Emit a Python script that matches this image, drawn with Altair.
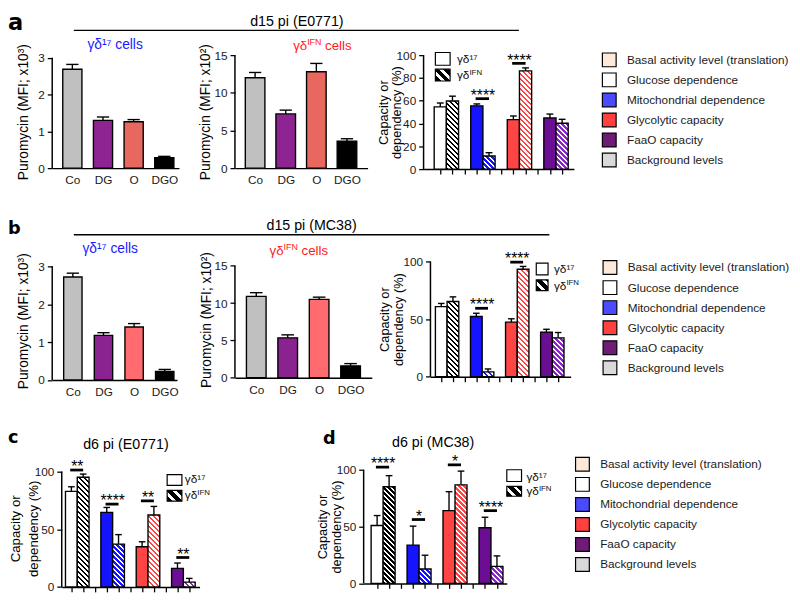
import math
import altair as alt
import pandas as pd

FONT = "Liberation Sans"
LETTER_FONT = "DejaVu Sans"

# ------------------------------------------------------------------ data
puro_labels = ["Co", "DG", "O", "DGO"]
a1_mean = [2.69, 1.30, 1.26, 0.285]
a1_sem = [0.13, 0.09, 0.06, 0.035]
a2_mean = [12.0, 7.2, 12.8, 3.57]
a2_sem = [0.7, 0.5, 1.1, 0.33]
b1_mean = [2.72, 1.18, 1.40, 0.23]
b1_sem = [0.10, 0.07, 0.09, 0.05]
b2_mean = [10.9, 5.35, 10.5, 1.6]
b2_sem = [0.5, 0.4, 0.3, 0.3]

capacity_groups = ["Glucose dependence", "Mitochondrial dependence",
                   "Glycolytic capacity", "FaaO capacity"]
a3_g17 = [54.6, 55.5, 43.4, 44.8]
a3_g17_sem = [3.4, 1.7, 3.2, 3.5]
a3_gifn = [59.8, 11.5, 86.2, 40.2]
a3_gifn_sem = [4.2, 2.9, 2.6, 3.5]
b3_g17 = [60.8, 52.3, 47.4, 38.6]
b3_g17_sem = [2.8, 2.8, 2.9, 2.6]
b3_gifn = [65.3, 4.3, 93.2, 33.8]
b3_gifn_sem = [4.0, 2.5, 2.5, 4.6]
c_g17 = [82.7, 64.6, 34.8, 16.1]
c_g17_sem = [4.0, 4.2, 4.3, 4.6]
c_gifn = [94.9, 37.1, 62.3, 4.2]
c_gifn_sem = [2.8, 8.2, 7.4, 3.2]
d_g17 = [51.0, 33.7, 64.0, 49.0]
d_g17_sem = [8.7, 16.7, 16.7, 9.2]
d_gifn = [85.0, 12.7, 86.7, 15.0]
d_gifn_sem = [9.8, 12.1, 12.1, 9.2]

# significance brackets: group index, bracket height (data units), label
a3_sig_group = [1, 2]
a3_sig_level = [61.8, 92.8]
a3_sig_text = ["****", "****"]
b3_sig_group = [1, 2]
b3_sig_level = [59.4, 99.4]
b3_sig_text = ["****", "****"]
c_sig_group = [0, 1, 2, 3]
c_sig_level = [101.2, 71.7, 74.5, 25.5]
c_sig_text = ["**", "****", "**", "**"]
d_sig_group = [0, 1, 2, 3]
d_sig_level = [102.3, 56.2, 104.3, 64.0]
d_sig_text = ["****", "*", "*", "****"]

legend_labels = ["Basal activity level (translation)", "Glucose dependence",
                 "Mitochondrial dependence", "Glycolytic capacity",
                 "FaaO capacity", "Background levels"]

# ------------------------------------------------------------------ styles
puro_colors_a = ["#c0c0c0", "#8e2491", "#e8675f", "#000000"]
puro_colors_b = ["#c0c0c0", "#8a2290", "#ff6b6e", "#000000"]
cap_solid = ["#ffffff", "#1414ff", "#ff4444", "#6c0e94"]
cap_hatch = ["#000000", "#1414ff", "#ff4444", "#8a24c8"]
legend_colors = ["#fde9d9", "#ffffff", "#4a4aff", "#ff4040", "#6e1c78", "#d9d9d9"]
BLUE_TXT = "#1a1aff"
RED_TXT = "#ff1a1a"

SLOTS17 = [1, 4, 7, 10]
SLOTSIFN = [2, 5, 8, 11]

GEOM = {
    "a1": dict(W=129, H=115.0, xmin=0.343, xmax=4.478, ymax=3.072, hw=0.3125, yticks=[0, 1, 2, 3]),
    "a2": dict(W=135, H=115.0, xmin=0.342, xmax=4.673, ymax=15.0, hw=0.32, yticks=[0, 5, 10, 15]),
    "a3": dict(W=153, H=116.0, xmin=-0.371, xmax=11.968, ymax=100.0, yticks=[0, 20, 40, 60, 80, 100]),
    "b1": dict(W=127, H=120.7, xmin=0.326, xmax=4.40, ymax=3.129, hw=0.30, yticks=[0, 1, 2, 3]),
    "b2": dict(W=139.3, H=118.4, xmin=0.322, xmax=4.675, ymax=15.58, hw=0.3125, yticks=[0, 5, 10, 15]),
    "b3": dict(W=142.7, H=117.4, xmin=0.076, xmax=12.07, ymax=100.0, yticks=[0, 50, 100]),
    "c": dict(W=140.3, H=119.3, xmin=0.183, xmax=11.875, ymax=101.45, yticks=[0, 50, 100]),
    "d": dict(W=145.7, H=115.7, xmin=-0.123, xmax=11.82, ymax=100.0, yticks=[0, 50, 100]),
}

ONE = pd.DataFrame({"k": [0]})
LABEL_EXPR = "[" + ",".join("'%s'" % s for s in puro_labels) + "][round(datum.value) - 1]"

# approximate Arial/Liberation advance widths (em) for composing superscripts
CW = {"γ": 0.5, "δ": 0.556, "I": 0.278, "F": 0.611, "N": 0.722, " ": 0.278, "c": 0.5,
      "e": 0.556, "l": 0.222, "s": 0.5}
BAR_STROKE = 1.4


def tw(s, size):
    return sum(CW.get(ch, 0.55) for ch in s) * size


def hatch(color, w, h, period, duty=0.5, bg="#ffffff"):
    w = max(w, 1.0)
    h = max(h, 1.0)
    k = (w + h) / (w * w + h * h)
    n = (w + h) / math.sqrt(2) / period
    stops = []
    i = 0
    while i / n < 1:
        a = i / n
        b = min((i + duty) / n, 1.0)
        c = min((i + 1) / n, 1.0)
        stops += [(a, color), (b, color), (b, bg), (c, bg)]
        i += 1
    return {"gradient": "linear", "x1": 0, "y1": 1,
            "x2": round(k * w, 5), "y2": round(1 - k * h, 5),
            "stops": [{"offset": round(o, 5), "color": col} for o, col in stops]}


def y_axis(values, title, title_x, title_size, line_height=None):
    kw = dict(values=values, domain=False, grid=False, ticks=True, tickSize=5, tickWidth=1.3,
              tickColor="black", labelPadding=3, labelFontSize=12, labelColor="#1a1a1a",
              labelFlush=False, labelOverlap=False, title=title, titleFontSize=title_size,
              titleFontWeight="normal", titleColor="black", titleX=title_x, titleAngle=270,
              titleBaseline="middle", titleAlign="center")
    if line_height:
        kw["titleLineHeight"] = line_height
    return alt.Axis(**kw)


def ann_text(x, y, text, **kw):
    return alt.Chart(ONE).mark_text(**kw).encode(x=alt.value(x), y=alt.value(y), text=alt.value(text))


def ann_rule(x, x2, y, width=1.5, opacity=1):
    return alt.Chart(ONE).mark_rule(color="black", strokeWidth=width, opacity=opacity).encode(
        x=alt.value(x), x2=alt.value(x2), y=alt.value(y))


def ann_box(x, x2, y, y2, fill):
    return alt.Chart(ONE).mark_rect(fill=fill, stroke="black", strokeWidth=1.2).encode(
        x=alt.value(x), x2=alt.value(x2), y=alt.value(y), y2=alt.value(y2))


def sup_label(x, baseline_y, parts, color, center=False):
    """parts: list of (text, fontsize, raise_px); drawn left to right."""
    total = sum(tw(t, s) for t, s, _ in parts)
    cx = x - total / 2 if center else x
    out = []
    for t, s, r in parts:
        lead = len(t) - len(t.lstrip(" "))
        cx += tw(" " * lead, s)
        body = t.lstrip(" ")
        out.append(ann_text(cx, baseline_y - r, body, align="left", baseline="alphabetic",
                            fontSize=s, color=color))
        cx += tw(body, s)
    return out


def ifn_parts(base, sup, rise, tail=""):
    p = [("γδ", base, 0), ("IFN", sup, rise)]
    if tail:
        p.append((tail, base, 0))
    return p


def cell_legend(x0, x1, y0, y1, y2, y3, tx, ty0, ty1):
    return [
        ann_box(x0, x1, y0, y1, "#ffffff"),
        ann_box(x0, x1, y2, y3, hatch("#000000", x1 - x0, y3 - y2, 7.0, 0.6)),
        ann_text(tx, ty0, "γδ¹⁷", align="left", baseline="middle", fontSize=12, color="#111"),
    ] + sup_label(tx, ty1 + 4, ifn_parts(12, 8, 4.5), "#111")


def cat_legend(lx, ly):
    return alt.Chart(pd.DataFrame({"category": legend_labels})).transform_filter("false").mark_square(
        filled=True, size=196, stroke="black", strokeWidth=1.2, opacity=1
    ).encode(fill=alt.Fill("category:N",
                           scale=alt.Scale(domain=legend_labels, range=legend_colors),
                           legend=alt.Legend(orient="none", legendX=lx, legendY=ly, title=None,
                                             symbolType="square", symbolSize=196,
                                             symbolStrokeColor="black", symbolStrokeWidth=1.2,
                                             symbolOpacity=1, labelFontSize=12, labelColor="#1a1a1a",
                                             labelLimit=400, labelOffset=10, rowPadding=0.4, padding=0)))


def yline(g, ys, ya):
    df = pd.DataFrame({"y0": [0], "y1": [g["yticks"][-1]]})
    return alt.Chart(df).mark_rule(color="black", strokeWidth=1.5).encode(
        x=alt.value(0), y=alt.Y("y0:Q", scale=ys, axis=ya), y2="y1:Q")


def puro_panel(g, means, sems, colors, ytitle, title_x, annotations):
    xs = alt.Scale(domain=[g["xmin"], g["xmax"]], nice=False, zero=False)
    ys = alt.Scale(domain=[0, g["ymax"]], nice=False, zero=False)
    xa = alt.Axis(values=[1, 2, 3, 4], labelExpr=LABEL_EXPR, ticks=False, tickSize=0, labelPadding=7,
                  labelFontSize=12, labelColor="#1a1a1a", domain=True, domainColor="black",
                  domainWidth=1.5, grid=False, title=None, labelFlush=False, labelOverlap=False)
    ya = y_axis(g["yticks"], ytitle, title_x, 14)
    df = pd.DataFrame({"pos": [1, 2, 3, 4], "label": puro_labels, "mean": means, "sem": sems,
                       "color": colors})
    hw = g["hw"]
    cw = 0.2
    base = alt.Chart(df).transform_calculate(
        x0="datum.pos - %f" % hw, x1="datum.pos + %f" % hw,
        c0="datum.pos - %f" % cw, c1="datum.pos + %f" % cw,
        top="datum.mean + datum.sem", zero="0")
    bars = base.mark_rect(stroke="black", strokeWidth=BAR_STROKE).encode(
        x=alt.X("x0:Q", scale=xs, axis=xa), x2="x1:Q",
        y=alt.Y("mean:Q", scale=ys, axis=ya), y2="zero:Q",
        color=alt.Color("color:N", scale=None))
    stems = base.mark_rule(color="black", strokeWidth=1.4).encode(
        x=alt.X("pos:Q", scale=xs, axis=xa), y=alt.Y("mean:Q", scale=ys, axis=ya), y2="top:Q")
    caps = base.mark_rule(color="black", strokeWidth=1.4).encode(
        x=alt.X("c0:Q", scale=xs, axis=xa), x2="c1:Q", y=alt.Y("top:Q", scale=ys, axis=ya))
    return alt.layer(bars, stems, caps, yline(g, ys, ya), *annotations).properties(
        width=g["W"], height=g["H"])


def capacity_panel(g, g17, s17, gifn, sifn, sig_group, sig_level, sig_text,
                   title_x, title_lh, title_fs, annotations):
    xs = alt.Scale(domain=[g["xmin"], g["xmax"]], nice=False, zero=False)
    ys = alt.Scale(domain=[0, g["ymax"]], nice=False, zero=False)
    xa = alt.Axis(values=list(range(1, 12)), labels=False, ticks=True, tickSize=5, tickWidth=1.3,
                  tickColor="black", domain=True, domainColor="black", domainWidth=1.5,
                  grid=False, title=None)
    ya = y_axis(g["yticks"], ["Capacity or", "dependency (%)"], title_x, title_fs, title_lh)
    sx = g["W"] / (g["xmax"] - g["xmin"])
    ppu = g["H"] / g["ymax"]

    def X(f):
        return alt.X(f, scale=xs, axis=xa)

    def Y(f):
        return alt.Y(f, scale=ys, axis=ya)

    df17 = pd.DataFrame({"pos": SLOTS17, "mean": g17, "sem": s17, "color": cap_solid})
    dfi = pd.DataFrame({"pos": SLOTSIFN, "mean": gifn, "sem": sifn, "idx": [0, 1, 2, 3]})
    dfall = pd.concat([df17[["pos", "mean", "sem"]], dfi[["pos", "mean", "sem"]]], ignore_index=True)

    bars17 = alt.Chart(df17).transform_calculate(
        x0="datum.pos - 0.5", x1="datum.pos + 0.5", zero="0").mark_rect(
        stroke="black", strokeWidth=BAR_STROKE).encode(
        x=X("x0:Q"), x2="x1:Q", y=Y("mean:Q"), y2="zero:Q", color=alt.Color("color:N", scale=None))
    layers = [bars17]
    for i in range(4):
        grad = hatch(cap_hatch[i], sx, gifn[i] * ppu, 3.6)
        layers.append(
            alt.Chart(dfi).transform_filter("datum.idx == %d" % i).transform_calculate(
                x0="datum.pos - 0.5", x1="datum.pos + 0.5", zero="0").mark_rect(
                fill=grad, stroke="black", strokeWidth=BAR_STROKE).encode(
                x=X("x0:Q"), x2="x1:Q", y=Y("mean:Q"), y2="zero:Q"))
    ebase = alt.Chart(dfall).transform_calculate(
        top="datum.mean + datum.sem", c0="datum.pos - 0.28", c1="datum.pos + 0.28")
    layers.append(ebase.mark_rule(color="black", strokeWidth=1.4).encode(
        x=X("pos:Q"), y=Y("mean:Q"), y2="top:Q"))
    layers.append(ebase.mark_rule(color="black", strokeWidth=1.4).encode(
        x=X("c0:Q"), x2="c1:Q", y=Y("top:Q")))
    dfs = pd.DataFrame({
        "xa": [SLOTS17[k] - 0.1 for k in sig_group],
        "xb": [SLOTSIFN[k] + 0.0 for k in sig_group],
        "xm": [(SLOTS17[k] + SLOTSIFN[k]) / 2 for k in sig_group],
        "level": sig_level, "text": sig_text})
    layers.append(alt.Chart(dfs).mark_rule(color="black", strokeWidth=2.8).encode(
        x=X("xa:Q"), x2="xb:Q", y=Y("level:Q")))
    layers.append(alt.Chart(dfs).mark_text(fontSize=16, baseline="alphabetic", dy=2.2, color="black").encode(
        x=X("xm:Q"), y=Y("level:Q"), text="text:N"))
    layers.append(yline(g, ys, ya))
    layers += annotations
    return alt.layer(*layers).properties(width=g["W"], height=g["H"])


def letter(x, y, ch, size):
    return ann_text(x, y, ch, align="left", baseline="alphabetic", fontSize=size, fontWeight="bold",
                    font=LETTER_FONT, color="black")


HEAD = dict(align="center", baseline="middle", fontSize=14.5, color="black")
CELL = dict(align="center", baseline="middle", fontSize=14)

# ---------------------------------------------------------------- row a
a1 = puro_panel(GEOM["a1"], a1_mean, a1_sem, puro_colors_a, "Puromycin (MFI; x10³)", -29, [
    ann_rule(0, 10, -52, width=1, opacity=0),          # invisible top anchor of the figure
    letter(-45, -25.7, "a", 23),
    ann_text(249, -33.8, "d15 pi (E0771)", **HEAD),
    ann_rule(22, 475, -25.2),
    ann_text(64, -10.7, "γδ¹⁷ cells", color=BLUE_TXT, **CELL),
])
a2 = puro_panel(GEOM["a2"], a2_mean, a2_sem, puro_colors_a, "Puromycin (MFI; x10²)", -29.7,
                sup_label(89, -5.7, ifn_parts(13.5, 9, 5, " cells"), RED_TXT, center=True))
a3 = capacity_panel(GEOM["a3"], a3_g17, a3_g17_sem, a3_gifn, a3_gifn_sem,
                    a3_sig_group, a3_sig_level, a3_sig_text, -41, 14, 13,
                    cell_legend(12, 27, -2.7, 10.3, 14.3, 26.3, 34, 4.3, 20.3) + [cat_legend(181, -3.2)])

# ---------------------------------------------------------------- row b
b1 = puro_panel(GEOM["b1"], b1_mean, b1_sem, puro_colors_b, "Puromycin (MFI; x10³)", -29, [
    letter(-45, -27.6, "b", 18),
    ann_text(264, -36.3, "d15 pi (MC38)", **HEAD),
    ann_rule(22, 506, -27.3),
    ann_text(59, -12.3, "γδ¹⁷ cells", color=BLUE_TXT, **CELL),
])
b2 = puro_panel(GEOM["b2"], b2_mean, b2_sem, puro_colors_b, "Puromycin (MFI; x10²)", -29,
                sup_label(65, -6.3, ifn_parts(13.5, 9, 5, " cells"), RED_TXT, center=True))
b3 = capacity_panel(GEOM["b3"], b3_g17, b3_g17_sem, b3_gifn, b3_gifn_sem,
                    b3_sig_group, b3_sig_level, b3_sig_text, -46.3, 14, 13,
                    cell_legend(107.7, 119.7, 1.7, 13.7, 18.7, 29.7, 125.7, 7.7, 24.7) + [cat_legend(174.7, -1.8)])

# ---------------------------------------------------------------- row c / d
c = capacity_panel(GEOM["c"], c_g17, c_g17_sem, c_gifn, c_gifn_sem,
                   c_sig_group, c_sig_level, c_sig_text, -47.2, 19, 13.5,
                   [letter(-54.7, -27, "c", 18),
                    ann_text(65.3, -25, "d6 pi (E0771)", **HEAD)] +
                   cell_legend(107.3, 122.3, 5, 16, 21, 32, 125.3, 10, 26))
d = capacity_panel(GEOM["d"], d_g17, d_g17_sem, d_gifn, d_gifn_sem,
                   d_sig_group, d_sig_level, d_sig_text, -41.8, 14.5, 13,
                   [letter(-41.3, -26.7, "d", 18),
                    ann_text(70.7, -27, "d6 pi (MC38)", **HEAD)] +
                   cell_legend(145.7, 160.7, 0, 12, 17, 27, 165.7, 7, 22) + [cat_legend(214.7, -13.5)])


def indep(ch):
    return ch.resolve_scale(fill="independent", color="independent").resolve_legend(fill="independent")


# an empty 1-px view that pushes panel c a little to the right of the row origin
spacer = alt.Chart(ONE).mark_point(opacity=0).encode(
    x=alt.value(0), y=alt.value(0)).properties(width=1, height=1)

row_a = indep(alt.hconcat(a1, a2, a3, spacing=57, bounds="flush"))
row_b = indep(alt.hconcat(b1, b2, b3, spacing=59, bounds="flush"))
row_cd = indep(alt.hconcat(spacer, indep(alt.hconcat(c, d, spacing=166.3, bounds="flush")),
                           spacing=8.7, bounds="flush"))

chart = indep(alt.vconcat(row_a, row_b, row_cd, spacing=32))
chart = chart.properties(padding={"left": 0, "top": -9.3, "right": 2, "bottom": 2},
                         background="white").configure(font=FONT).configure_view(
    stroke=None).configure_axis(labelOverlap=False, labelFlush=False, grid=False)

chart.save("out.html", embed_options={"renderer": "svg", "actions": False})
